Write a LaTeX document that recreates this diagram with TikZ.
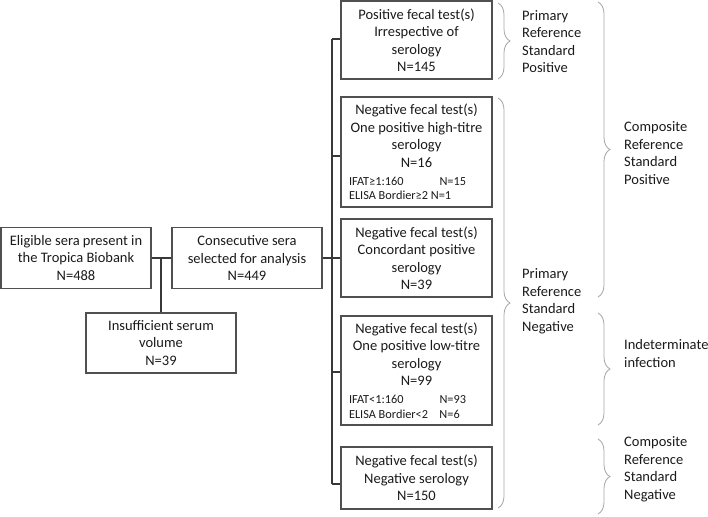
\documentclass[tikz,border=0pt]{standalone}
\usepackage{fontspec}
\setmainfont{Carlito}
\usetikzlibrary{decorations.pathreplacing}
\definecolor{boxc}{HTML}{505050}
\definecolor{brcol}{HTML}{A6A6A6}
\definecolor{txt}{HTML}{1A1A1A}
\newcommand{\smallf}{\fontsize{12.3}{14.5}\selectfont}
\newcommand{\subline}[2]{{\smallf\makebox[135pt][l]{\makebox[90.5pt][l]{#1}#2}}}
\newcommand{\subfree}[1]{{\smallf\makebox[135pt][l]{#1}}}
\begin{document}
\begin{tikzpicture}[x=1pt,y=-1pt,
  box/.style={draw=boxc, line width=1.1pt, align=center, inner sep=0pt, minimum width=150pt, text=txt, font=\fontsize{14.5}{17.5}\selectfont},
  rbox/.style={box, minimum width=151pt},
  conn/.style={draw=boxc!70!black, line width=1.1pt},
  brc/.style={draw=brcol, line width=0.8pt, decorate, decoration={brace, amplitude=12pt}},
  lab/.style={align=left, anchor=west, inner sep=0pt, text=txt, font=\fontsize{14.5}{17.5}\selectfont}]
\path[use as bounding box] (0,0) rectangle (708,516);
% left part
\node[box, minimum height=61pt] (elig) at (76,258) {Eligible sera present in\\the Tropica Biobank\\N=488};
\node[box, minimum height=61pt] (cons) at (247,258) {Consecutive sera\\selected for analysis\\N=449};
\node[box, minimum height=60pt] (ins) at (161,343) {Insufficient serum\\volume\\N=39};
% right boxes
\node[rbox, minimum height=78pt] (b1) at (416.5,40) {Positive fecal test(s)\\Irrespective of\\serology\\N=145};
\node[rbox, minimum height=110pt] (b2) at (416.5,152) {Negative fecal test(s)\\One positive high-titre\\serology\\N=16\\[0.5pt]\subline{IFAT≥1:160}{N=15}\\[-3pt]\subfree{ELISA Bordier≥2 N=1}};
\node[rbox, minimum height=78pt] (b3) at (416.5,258) {Negative fecal test(s)\\Concordant positive\\serology\\N=39};
\node[rbox, minimum height=109pt] (b4) at (416.5,370.5) {Negative fecal test(s)\\One positive low-titre\\serology\\N=99\\\subline{IFAT<1:160}{N=93}\\[-2.5pt]\subline{ELISA Bordier<2}{N=6}};
\node[rbox, minimum height=62pt] (b5) at (416.5,478) {Negative fecal test(s)\\Negative serology\\N=150};
% connectors
\draw[conn] (elig.east) -- (cons.west);
\draw[conn] (ins.north) -- (ins.north |- elig.east);
\draw[conn] (cons.east) -- (b3.west);
\coordinate (t1) at (332,39);
\coordinate (t2) at (332,156);
\coordinate (t4) at (332,372);
\coordinate (t5) at (332,484);
\draw[conn] (t1) -- (t5);
\draw[conn] (t1) -- (t1 -| b1.west);
\draw[conn] (t2) -- (t2 -| b2.west);
\draw[conn] (t4) -- (t4 -| b4.west);
\draw[conn] (t5) -- (t5 -| b5.west);
% braces
\draw[brc] (498,3) -- (498,79);
\draw[brc] (498,98) -- (498,508);
\draw[brc] (598,2) -- (598,297);
\draw[brc] (598,313) -- (598,425);
\draw[brc] (598,439) -- (598,514);
% labels
\node[lab] (l1) at (522,41.5) {Primary\\Reference\\Standard\\Positive};
\node[lab] (l2) at (522,301.5) {Primary\\Reference\\Standard\\Negative};
\node[lab] (l3) at (624,153) {Composite\\Reference\\Standard\\Positive};
\node[lab] (l4) at (624,353.5) {Indeterminate\\infection};
\node[lab] (l5) at (624,469.5) {Composite\\Reference\\Standard\\Negative};
\end{tikzpicture}
\end{document}
